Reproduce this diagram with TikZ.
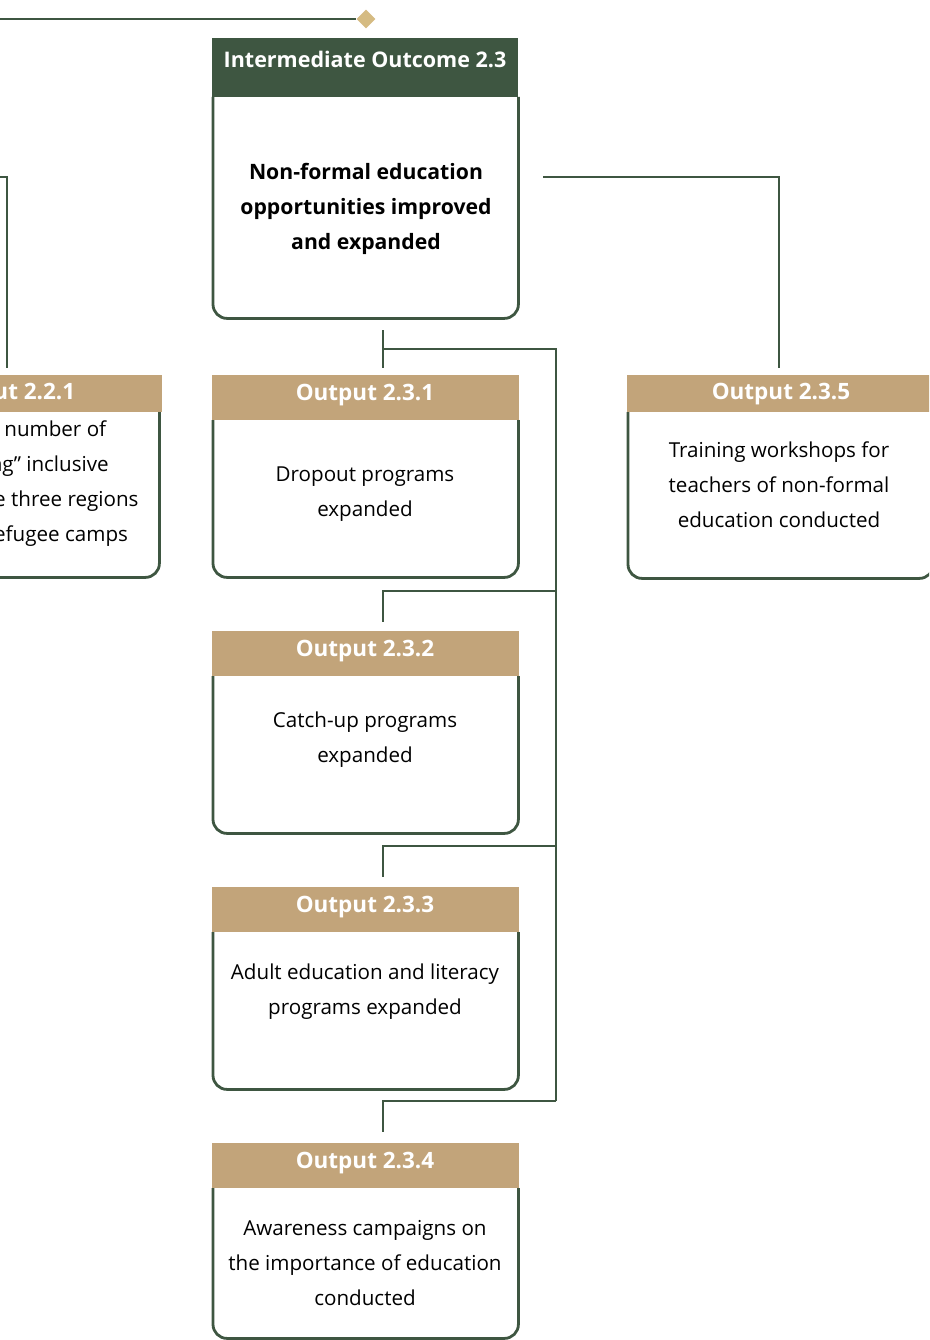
\documentclass[tikz,border=0pt]{standalone}
\usepackage{fontspec}
\setmainfont{Open Sans}
\usetikzlibrary{shapes.geometric}
\definecolor{dkgreen}{HTML}{3E5641}
\definecolor{tanhdr}{HTML}{C2A47A}
\definecolor{golddia}{HTML}{D5BB82}
\begin{document}
\begin{tikzpicture}[x=1pt,y=-1pt,
  conn/.style={draw=dkgreen,line width=2.8pt},
  border/.style={draw=dkgreen,line width=2.8pt,rounded corners=14pt},
  darkhdr/.style={fill=dkgreen,minimum width=306pt,minimum height=59pt,inner sep=0pt,anchor=north west},
  hdr/.style={fill=tanhdr,minimum width=307pt,inner sep=0pt,anchor=north west},
  htext/.style={text=white,font=\bfseries\fontsize{22.5}{26}\selectfont,inner sep=0pt},
  iotext/.style={text=white,font=\bfseries\fontsize{21.5}{26}\selectfont,inner sep=0pt},
  bodybox/.style={inner sep=0pt,minimum width=305pt,anchor=north west},
  btext/.style={align=center,font=\fontsize{20.6}{35}\selectfont,inner sep=0pt},
  ttext/.style={align=center,font=\bfseries\fontsize{21.2}{35}\selectfont,inner sep=0pt},
  dia/.style={diamond,fill=golddia,inner sep=0pt,minimum width=19pt,minimum height=19pt}
]
\useasboundingbox (0,0) rectangle (929,1340);
\clip (0,0) rectangle (929,1340);

% ---------- top link ----------
\coordinate (topL) at (0,19);
\node[dia] (dia) at (366,19) {};
\draw[conn] (topL) -- (dia.west);

% ---------- Intermediate Outcome 2.3 ----------
\node[darkhdr] (ioh) at (212,38) {};
\node[iotext] (iohT) at (365,59) {Intermediate Outcome 2.3};
\node[bodybox,minimum height=221pt] (iob) at (213,97) {};
\draw[border] (iob.north west) -- (iob.south west) -- (iob.south east) -- (iob.north east);
\node[ttext] (iot) at (366,209) {Non-formal education\\opportunities improved\\and expanded};

% ---------- Output 2.2.1 (partly visible) ----------
\node[hdr,minimum height=37pt] (h221) at (-145,375) {};
\node[htext] (h221T) at (6,394) {Output 2.2.1};
\node[bodybox,minimum height=165pt] (b221) at (-146,412) {};
\draw[border] (b221.north west) -- (b221.south west) -- (b221.south east) -- (b221.north east);
\node[btext] (t221) at (6,484) {Increased number of\\“welcoming” inclusive\\schools in the three regions\\and in the refugee camps};

% ---------- Output 2.3.5 ----------
\node[hdr,minimum height=37pt] (h235) at (627,375) {};
\node[htext] (h235T) at (781,394) {Output 2.3.5};
\node[bodybox,minimum height=166pt] (b235) at (628,412) {};
\draw[border] (b235.north west) -- (b235.south west) -- (b235.south east) -- (b235.north east);
\node[btext] (t235) at (779,485) {Training workshops for\\teachers of non-formal\\education conducted};

% ---------- Output 2.3.1 ----------
\node[hdr,minimum height=45pt] (h231) at (212,375) {};
\node[htext] (h231T) at (365,395) {Output 2.3.1};
\node[bodybox,minimum height=157pt] (b231) at (213,420) {};
\draw[border] (b231.north west) -- (b231.south west) -- (b231.south east) -- (b231.north east);
\node[btext] (t231) at (365,494) {Dropout programs\\expanded};

% ---------- Output 2.3.2 ----------
\node[hdr,minimum height=45pt] (h232) at (212,631) {};
\node[htext] (h232T) at (365,651) {Output 2.3.2};
\node[bodybox,minimum height=157pt] (b232) at (213,676) {};
\draw[border] (b232.north west) -- (b232.south west) -- (b232.south east) -- (b232.north east);
\node[btext] (t232) at (365,740) {Catch-up programs\\expanded};

% ---------- Output 2.3.3 ----------
\node[hdr,minimum height=45pt] (h233) at (212,887) {};
\node[htext] (h233T) at (365,907) {Output 2.3.3};
\node[bodybox,minimum height=157pt] (b233) at (213,932) {};
\draw[border] (b233.north west) -- (b233.south west) -- (b233.south east) -- (b233.north east);
\node[btext] (t233) at (365,992) {Adult education and literacy\\programs expanded};

% ---------- Output 2.3.4 ----------
\node[hdr,minimum height=45pt] (h234) at (212,1143) {};
\node[htext] (h234T) at (365,1163) {Output 2.3.4};
\node[bodybox,minimum height=150pt] (b234) at (213,1188) {};
\draw[border] (b234.north west) -- (b234.south west) -- (b234.south east) -- (b234.north east);
\node[btext] (t234) at (365,1263) {Awareness campaigns on\\the importance of education\\conducted};

% ---------- connectors ----------
\coordinate (lA) at (0,177);
\coordinate (l221) at (7,368);
\draw[conn] (lA) -- (7,177) -- (l221);
\coordinate (rA) at (543,177);
\coordinate (r235) at (779,368);
\draw[conn] (rA) -- (779,177) -- (r235);
\coordinate (cTop) at (383,330);
\coordinate (c231) at (383,368);
\draw[conn] (cTop) -- (c231);
\coordinate (bus1) at (383,349);
\coordinate (busR1) at (556,349);
\coordinate (busR4) at (556,1101);
\draw[conn] (bus1) -- (busR1) -- (busR4);
\coordinate (c232) at (383,622);
\coordinate (c233) at (383,877);
\coordinate (c234) at (383,1132);
\draw[conn] (556,591) -- (383,591) -- (c232);
\draw[conn] (556,846) -- (383,846) -- (c233);
\draw[conn] (busR4) -- (383,1101) -- (c234);
\end{tikzpicture}
\end{document}
